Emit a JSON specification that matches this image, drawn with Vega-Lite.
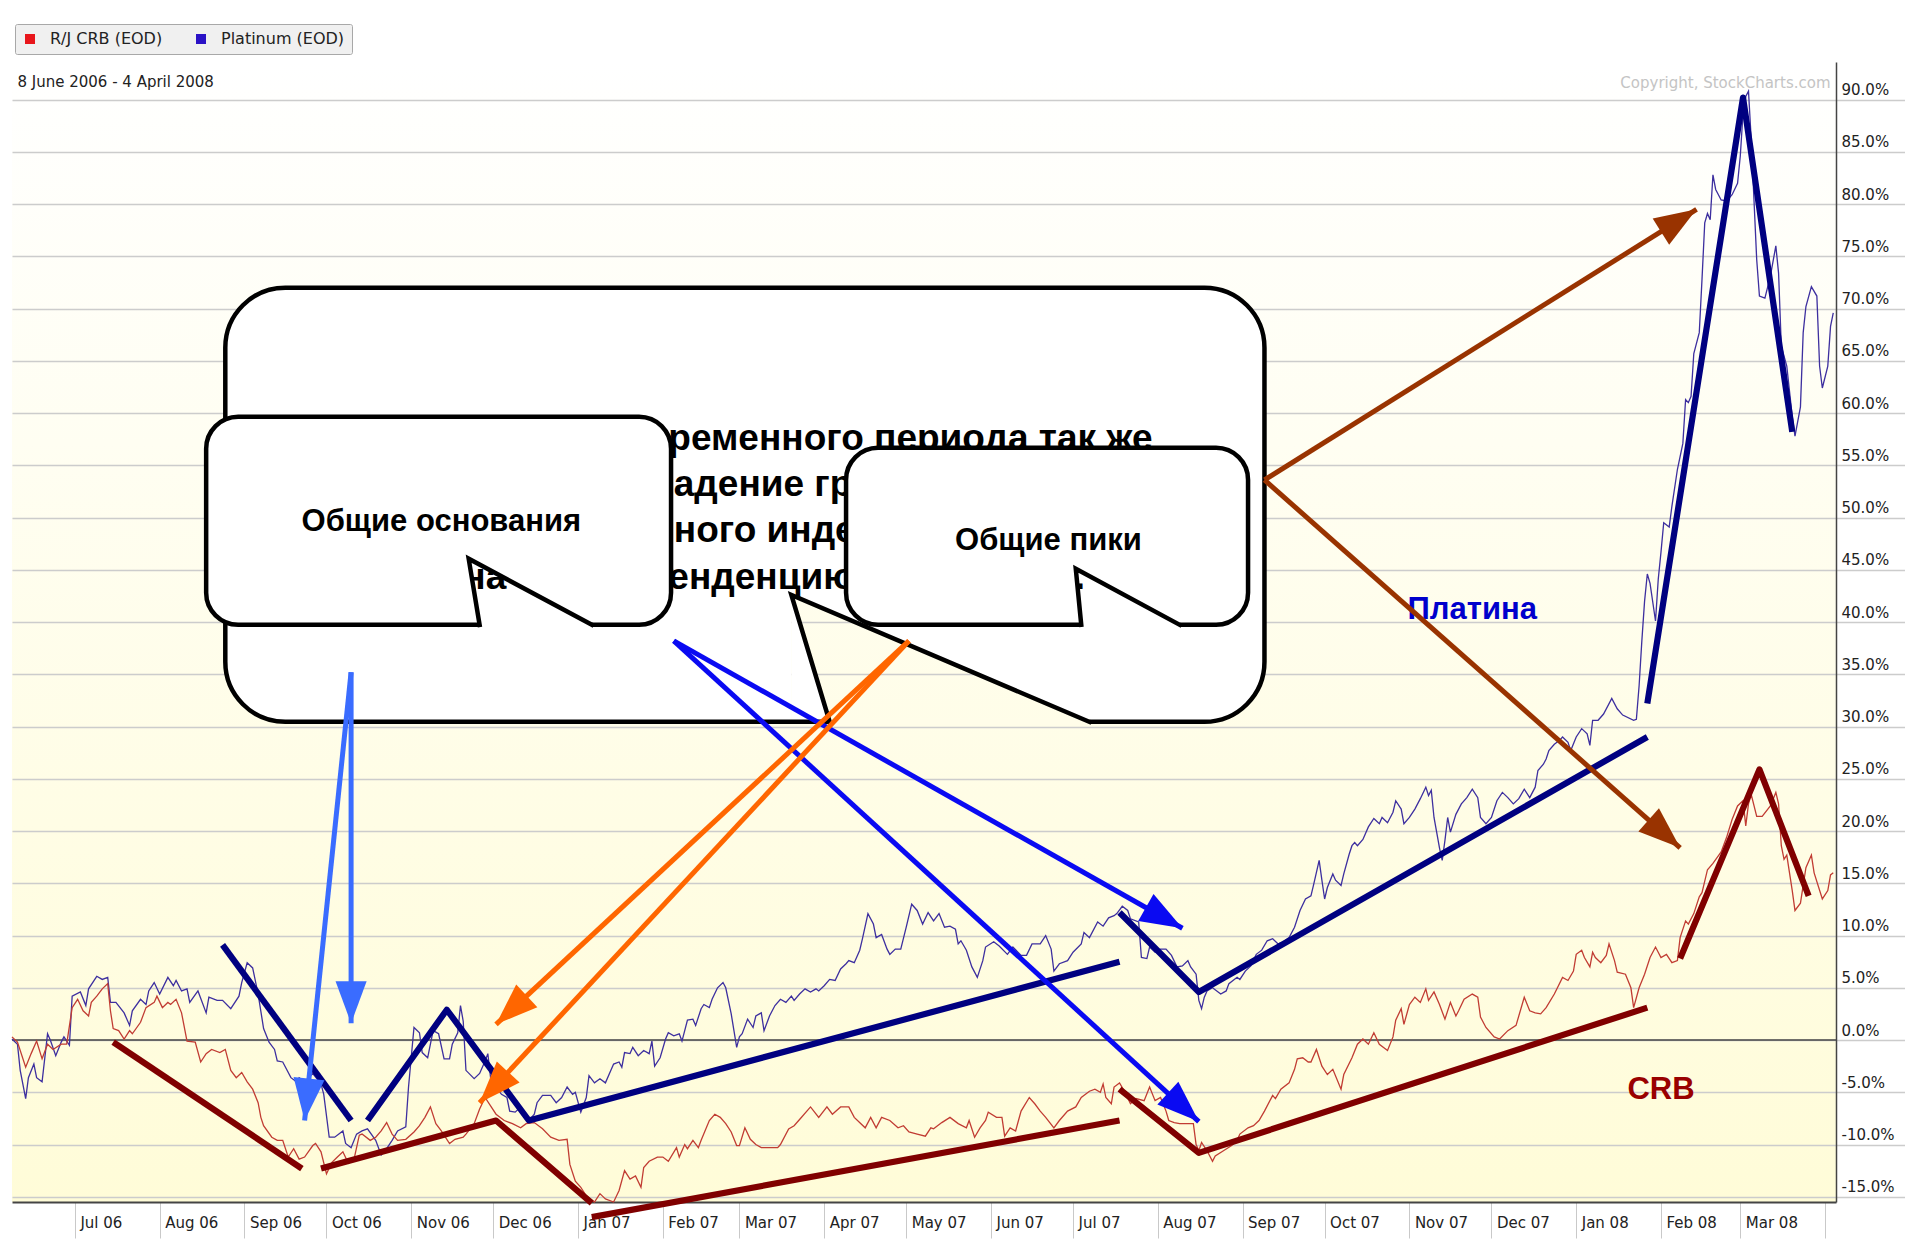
{
"$schema": "https://vega.github.io/schema/vega-lite/v6.json",
"width": 1824, "height": 1140,
"autosize": {"type": "none"},
"padding": {"left": 12, "top": 62, "right": 69, "bottom": 47},
"background": "#ffffff",
"config": {"view": {"stroke": null, "fill": {"gradient": "linear", "x1": 0, "y1": 0, "x2": 0, "y2": 1, "stops": [{"offset": 0, "color": "#ffffff"}, {"offset": 1, "color": "#fffcd8"}]}}, "font": "DejaVu Sans"},
"resolve": {"scale": {"color": "independent", "angle": "independent"}},
"datasets": {
"prices": [
{"date":"2006-06-08","series":"Platinum","pct":0.1},{"date":"2006-06-10","series":"Platinum","pct":-0.4},{"date":"2006-06-11","series":"Platinum","pct":-2.9},{"date":"2006-06-13","series":"Platinum","pct":-5.6},{"date":"2006-06-14","series":"Platinum","pct":-3.6},{"date":"2006-06-16","series":"Platinum","pct":-2.3},{"date":"2006-06-17","series":"Platinum","pct":-3.6},{"date":"2006-06-19","series":"Platinum","pct":-4.0},{"date":"2006-06-21","series":"Platinum","pct":0.6},{"date":"2006-06-22","series":"Platinum","pct":0.0},{"date":"2006-06-24","series":"Platinum","pct":-1.5},{"date":"2006-06-26","series":"Platinum","pct":-0.2},{"date":"2006-06-27","series":"Platinum","pct":0.3},{"date":"2006-06-29","series":"Platinum","pct":-0.5},{"date":"2006-06-30","series":"Platinum","pct":4.2},
{"date":"2006-07-03","series":"Platinum","pct":4.6},{"date":"2006-07-05","series":"Platinum","pct":3.3},{"date":"2006-07-06","series":"Platinum","pct":4.9},{"date":"2006-07-09","series":"Platinum","pct":6.1},{"date":"2006-07-11","series":"Platinum","pct":5.8},{"date":"2006-07-13","series":"Platinum","pct":6.0},{"date":"2006-07-14","series":"Platinum","pct":3.6},{"date":"2006-07-16","series":"Platinum","pct":3.6},{"date":"2006-07-19","series":"Platinum","pct":2.6},{"date":"2006-07-21","series":"Platinum","pct":1.4},{"date":"2006-07-22","series":"Platinum","pct":2.8},{"date":"2006-07-25","series":"Platinum","pct":3.9},{"date":"2006-07-27","series":"Platinum","pct":3.4},{"date":"2006-07-28","series":"Platinum","pct":4.7},{"date":"2006-07-30","series":"Platinum","pct":5.5},
{"date":"2006-08-01","series":"Platinum","pct":4.4},{"date":"2006-08-04","series":"Platinum","pct":6.0},{"date":"2006-08-06","series":"Platinum","pct":5.2},{"date":"2006-08-07","series":"Platinum","pct":5.7},{"date":"2006-08-09","series":"Platinum","pct":4.7},{"date":"2006-08-11","series":"Platinum","pct":4.9},{"date":"2006-08-12","series":"Platinum","pct":3.6},{"date":"2006-08-15","series":"Platinum","pct":4.7},{"date":"2006-08-18","series":"Platinum","pct":2.6},{"date":"2006-08-19","series":"Platinum","pct":4.1},{"date":"2006-08-22","series":"Platinum","pct":3.8},{"date":"2006-08-24","series":"Platinum","pct":3.8},{"date":"2006-08-27","series":"Platinum","pct":3.0},{"date":"2006-08-30","series":"Platinum","pct":4.2},{"date":"2006-08-31","series":"Platinum","pct":5.5},
{"date":"2006-09-02","series":"Platinum","pct":7.4},{"date":"2006-09-04","series":"Platinum","pct":6.9},{"date":"2006-09-06","series":"Platinum","pct":4.4},{"date":"2006-09-08","series":"Platinum","pct":1.1},{"date":"2006-09-10","series":"Platinum","pct":-0.2},{"date":"2006-09-12","series":"Platinum","pct":-0.9},{"date":"2006-09-13","series":"Platinum","pct":-2.0},{"date":"2006-09-15","series":"Platinum","pct":-2.1},{"date":"2006-09-18","series":"Platinum","pct":-3.6},{"date":"2006-09-20","series":"Platinum","pct":-4.0},{"date":"2006-09-21","series":"Platinum","pct":-3.6},{"date":"2006-09-23","series":"Platinum","pct":-4.0},{"date":"2006-09-26","series":"Platinum","pct":-3.2},{"date":"2006-09-29","series":"Platinum","pct":-4.2},{"date":"2006-09-30","series":"Platinum","pct":-5.2},
{"date":"2006-10-02","series":"Platinum","pct":-9.3},{"date":"2006-10-04","series":"Platinum","pct":-9.3},{"date":"2006-10-07","series":"Platinum","pct":-8.7},{"date":"2006-10-08","series":"Platinum","pct":-9.9},{"date":"2006-10-10","series":"Platinum","pct":-10.3},{"date":"2006-10-12","series":"Platinum","pct":-9.0},{"date":"2006-10-14","series":"Platinum","pct":-8.7},{"date":"2006-10-16","series":"Platinum","pct":-8.5},{"date":"2006-10-19","series":"Platinum","pct":-9.6},{"date":"2006-10-21","series":"Platinum","pct":-11.0},{"date":"2006-10-23","series":"Platinum","pct":-10.4},{"date":"2006-10-25","series":"Platinum","pct":-9.6},{"date":"2006-10-27","series":"Platinum","pct":-8.7},{"date":"2006-10-30","series":"Platinum","pct":-8.3},{"date":"2006-10-31","series":"Platinum","pct":-4.5},
{"date":"2006-11-02","series":"Platinum","pct":1.2},{"date":"2006-11-04","series":"Platinum","pct":0.7},{"date":"2006-11-05","series":"Platinum","pct":-1.2},{"date":"2006-11-07","series":"Platinum","pct":-1.7},{"date":"2006-11-09","series":"Platinum","pct":0.9},{"date":"2006-11-11","series":"Platinum","pct":0.6},{"date":"2006-11-13","series":"Platinum","pct":-1.8},{"date":"2006-11-15","series":"Platinum","pct":-1.8},{"date":"2006-11-16","series":"Platinum","pct":-0.4},{"date":"2006-11-18","series":"Platinum","pct":0.7},{"date":"2006-11-19","series":"Platinum","pct":3.3},{"date":"2006-11-20","series":"Platinum","pct":1.8},{"date":"2006-11-21","series":"Platinum","pct":-2.9},{"date":"2006-11-24","series":"Platinum","pct":-3.7},{"date":"2006-11-26","series":"Platinum","pct":-3.2},{"date":"2006-11-28","series":"Platinum","pct":-2.0},{"date":"2006-11-29","series":"Platinum","pct":-1.3},{"date":"2006-11-30","series":"Platinum","pct":-3.6},
{"date":"2006-12-02","series":"Platinum","pct":-4.5},{"date":"2006-12-04","series":"Platinum","pct":-5.2},{"date":"2006-12-06","series":"Platinum","pct":-5.5},{"date":"2006-12-07","series":"Platinum","pct":-6.8},{"date":"2006-12-09","series":"Platinum","pct":-6.9},{"date":"2006-12-11","series":"Platinum","pct":-6.4},{"date":"2006-12-13","series":"Platinum","pct":-7.1},{"date":"2006-12-14","series":"Platinum","pct":-7.7},{"date":"2006-12-16","series":"Platinum","pct":-7.1},{"date":"2006-12-17","series":"Platinum","pct":-6.0},{"date":"2006-12-19","series":"Platinum","pct":-5.3},{"date":"2006-12-22","series":"Platinum","pct":-5.3},{"date":"2006-12-24","series":"Platinum","pct":-6.0},{"date":"2006-12-26","series":"Platinum","pct":-5.5},{"date":"2006-12-28","series":"Platinum","pct":-4.5},{"date":"2006-12-30","series":"Platinum","pct":-5.2},{"date":"2006-12-31","series":"Platinum","pct":-5.0},
{"date":"2007-01-02","series":"Platinum","pct":-6.9},{"date":"2007-01-04","series":"Platinum","pct":-5.5},{"date":"2007-01-05","series":"Platinum","pct":-3.4},{"date":"2007-01-07","series":"Platinum","pct":-4.1},{"date":"2007-01-09","series":"Platinum","pct":-3.7},{"date":"2007-01-11","series":"Platinum","pct":-4.1},{"date":"2007-01-13","series":"Platinum","pct":-2.9},{"date":"2007-01-14","series":"Platinum","pct":-2.3},{"date":"2007-01-16","series":"Platinum","pct":-2.1},{"date":"2007-01-17","series":"Platinum","pct":-2.6},{"date":"2007-01-18","series":"Platinum","pct":-1.2},{"date":"2007-01-20","series":"Platinum","pct":-1.3},{"date":"2007-01-21","series":"Platinum","pct":-0.7},{"date":"2007-01-23","series":"Platinum","pct":-1.5},{"date":"2007-01-25","series":"Platinum","pct":-1.0},{"date":"2007-01-27","series":"Platinum","pct":-1.3},{"date":"2007-01-28","series":"Platinum","pct":-0.1},{"date":"2007-01-29","series":"Platinum","pct":-2.5},{"date":"2007-01-31","series":"Platinum","pct":-1.7},
{"date":"2007-02-02","series":"Platinum","pct":0.1},{"date":"2007-02-03","series":"Platinum","pct":0.7},{"date":"2007-02-05","series":"Platinum","pct":0.4},{"date":"2007-02-07","series":"Platinum","pct":0.6},{"date":"2007-02-08","series":"Platinum","pct":-0.1},{"date":"2007-02-10","series":"Platinum","pct":1.9},{"date":"2007-02-12","series":"Platinum","pct":2.0},{"date":"2007-02-13","series":"Platinum","pct":1.4},{"date":"2007-02-15","series":"Platinum","pct":3.0},{"date":"2007-02-16","series":"Platinum","pct":3.4},{"date":"2007-02-18","series":"Platinum","pct":3.1},{"date":"2007-02-19","series":"Platinum","pct":3.9},{"date":"2007-02-21","series":"Platinum","pct":5.0},{"date":"2007-02-23","series":"Platinum","pct":5.5},{"date":"2007-02-24","series":"Platinum","pct":5.0},{"date":"2007-02-26","series":"Platinum","pct":2.5},{"date":"2007-02-27","series":"Platinum","pct":0.9},{"date":"2007-02-28","series":"Platinum","pct":-0.7},
{"date":"2007-03-01","series":"Platinum","pct":0.3},{"date":"2007-03-02","series":"Platinum","pct":0.6},{"date":"2007-03-04","series":"Platinum","pct":2.0},{"date":"2007-03-06","series":"Platinum","pct":1.2},{"date":"2007-03-07","series":"Platinum","pct":2.3},{"date":"2007-03-09","series":"Platinum","pct":2.6},{"date":"2007-03-10","series":"Platinum","pct":0.9},{"date":"2007-03-12","series":"Platinum","pct":2.3},{"date":"2007-03-14","series":"Platinum","pct":3.3},{"date":"2007-03-16","series":"Platinum","pct":3.9},{"date":"2007-03-18","series":"Platinum","pct":3.6},{"date":"2007-03-20","series":"Platinum","pct":4.2},{"date":"2007-03-21","series":"Platinum","pct":3.8},{"date":"2007-03-23","series":"Platinum","pct":4.4},{"date":"2007-03-25","series":"Platinum","pct":4.9},{"date":"2007-03-27","series":"Platinum","pct":4.6},{"date":"2007-03-29","series":"Platinum","pct":4.9},{"date":"2007-03-30","series":"Platinum","pct":4.7},
{"date":"2007-04-01","series":"Platinum","pct":5.2},{"date":"2007-04-03","series":"Platinum","pct":5.8},{"date":"2007-04-05","series":"Platinum","pct":5.7},{"date":"2007-04-07","series":"Platinum","pct":6.8},{"date":"2007-04-09","series":"Platinum","pct":7.3},{"date":"2007-04-10","series":"Platinum","pct":7.6},{"date":"2007-04-12","series":"Platinum","pct":7.4},{"date":"2007-04-14","series":"Platinum","pct":8.6},{"date":"2007-04-15","series":"Platinum","pct":9.7},{"date":"2007-04-17","series":"Platinum","pct":12.1},{"date":"2007-04-19","series":"Platinum","pct":11.1},{"date":"2007-04-20","series":"Platinum","pct":9.8},{"date":"2007-04-22","series":"Platinum","pct":10.1},{"date":"2007-04-24","series":"Platinum","pct":8.7},{"date":"2007-04-25","series":"Platinum","pct":8.2},{"date":"2007-04-27","series":"Platinum","pct":8.7},{"date":"2007-04-29","series":"Platinum","pct":8.7},
{"date":"2007-05-01","series":"Platinum","pct":10.8},{"date":"2007-05-03","series":"Platinum","pct":13.0},{"date":"2007-05-05","series":"Platinum","pct":12.4},{"date":"2007-05-07","series":"Platinum","pct":11.1},{"date":"2007-05-09","series":"Platinum","pct":12.2},{"date":"2007-05-11","series":"Platinum","pct":11.4},{"date":"2007-05-13","series":"Platinum","pct":12.1},{"date":"2007-05-15","series":"Platinum","pct":10.8},{"date":"2007-05-17","series":"Platinum","pct":10.9},{"date":"2007-05-19","series":"Platinum","pct":10.6},{"date":"2007-05-20","series":"Platinum","pct":9.2},{"date":"2007-05-21","series":"Platinum","pct":9.5},{"date":"2007-05-23","series":"Platinum","pct":8.6},{"date":"2007-05-25","series":"Platinum","pct":7.0},{"date":"2007-05-27","series":"Platinum","pct":6.0},{"date":"2007-05-29","series":"Platinum","pct":7.6},{"date":"2007-05-30","series":"Platinum","pct":8.9},
{"date":"2007-06-02","series":"Platinum","pct":9.4},{"date":"2007-06-04","series":"Platinum","pct":9.0},{"date":"2007-06-07","series":"Platinum","pct":8.2},{"date":"2007-06-09","series":"Platinum","pct":8.9},{"date":"2007-06-12","series":"Platinum","pct":8.1},{"date":"2007-06-14","series":"Platinum","pct":8.1},{"date":"2007-06-16","series":"Platinum","pct":9.2},{"date":"2007-06-19","series":"Platinum","pct":9.2},{"date":"2007-06-21","series":"Platinum","pct":10.0},{"date":"2007-06-23","series":"Platinum","pct":8.7},{"date":"2007-06-24","series":"Platinum","pct":6.6},{"date":"2007-06-26","series":"Platinum","pct":7.3},{"date":"2007-06-29","series":"Platinum","pct":7.6},
{"date":"2007-07-01","series":"Platinum","pct":8.4},{"date":"2007-07-04","series":"Platinum","pct":9.2},{"date":"2007-07-05","series":"Platinum","pct":10.3},{"date":"2007-07-07","series":"Platinum","pct":9.8},{"date":"2007-07-10","series":"Platinum","pct":11.3},{"date":"2007-07-12","series":"Platinum","pct":10.9},{"date":"2007-07-14","series":"Platinum","pct":11.7},{"date":"2007-07-16","series":"Platinum","pct":11.9},{"date":"2007-07-17","series":"Platinum","pct":12.1},{"date":"2007-07-19","series":"Platinum","pct":12.8},{"date":"2007-07-21","series":"Platinum","pct":12.4},{"date":"2007-07-22","series":"Platinum","pct":11.6},{"date":"2007-07-25","series":"Platinum","pct":11.3},{"date":"2007-07-26","series":"Platinum","pct":7.9},{"date":"2007-07-28","series":"Platinum","pct":7.8},{"date":"2007-07-29","series":"Platinum","pct":8.9},{"date":"2007-07-31","series":"Platinum","pct":8.4},
{"date":"2007-08-02","series":"Platinum","pct":8.7},{"date":"2007-08-04","series":"Platinum","pct":8.7},{"date":"2007-08-06","series":"Platinum","pct":8.1},{"date":"2007-08-08","series":"Platinum","pct":7.0},{"date":"2007-08-10","series":"Platinum","pct":7.1},{"date":"2007-08-12","series":"Platinum","pct":7.6},{"date":"2007-08-13","series":"Platinum","pct":7.0},{"date":"2007-08-15","series":"Platinum","pct":6.3},{"date":"2007-08-16","series":"Platinum","pct":3.8},{"date":"2007-08-17","series":"Platinum","pct":3.0},{"date":"2007-08-18","series":"Platinum","pct":4.1},{"date":"2007-08-19","series":"Platinum","pct":4.7},{"date":"2007-08-21","series":"Platinum","pct":5.0},{"date":"2007-08-24","series":"Platinum","pct":4.4},{"date":"2007-08-26","series":"Platinum","pct":4.7},{"date":"2007-08-27","series":"Platinum","pct":5.4},{"date":"2007-08-30","series":"Platinum","pct":6.0},{"date":"2007-08-31","series":"Platinum","pct":5.8},
{"date":"2007-09-02","series":"Platinum","pct":6.6},{"date":"2007-09-04","series":"Platinum","pct":7.1},{"date":"2007-09-06","series":"Platinum","pct":8.2},{"date":"2007-09-08","series":"Platinum","pct":8.6},{"date":"2007-09-10","series":"Platinum","pct":9.5},{"date":"2007-09-12","series":"Platinum","pct":9.7},{"date":"2007-09-14","series":"Platinum","pct":9.2},{"date":"2007-09-16","series":"Platinum","pct":9.4},{"date":"2007-09-18","series":"Platinum","pct":9.8},{"date":"2007-09-20","series":"Platinum","pct":10.8},{"date":"2007-09-22","series":"Platinum","pct":12.4},{"date":"2007-09-24","series":"Platinum","pct":13.5},{"date":"2007-09-26","series":"Platinum","pct":13.8},{"date":"2007-09-27","series":"Platinum","pct":14.9},{"date":"2007-09-29","series":"Platinum","pct":17.2},{"date":"2007-09-30","series":"Platinum","pct":15.3},
{"date":"2007-10-01","series":"Platinum","pct":13.5},{"date":"2007-10-02","series":"Platinum","pct":14.6},{"date":"2007-10-04","series":"Platinum","pct":15.9},{"date":"2007-10-05","series":"Platinum","pct":15.3},{"date":"2007-10-07","series":"Platinum","pct":14.8},{"date":"2007-10-08","series":"Platinum","pct":15.9},{"date":"2007-10-10","series":"Platinum","pct":17.8},{"date":"2007-10-11","series":"Platinum","pct":18.6},{"date":"2007-10-12","series":"Platinum","pct":18.9},{"date":"2007-10-13","series":"Platinum","pct":18.6},{"date":"2007-10-15","series":"Platinum","pct":19.2},{"date":"2007-10-17","series":"Platinum","pct":20.4},{"date":"2007-10-19","series":"Platinum","pct":21.2},{"date":"2007-10-21","series":"Platinum","pct":20.7},{"date":"2007-10-22","series":"Platinum","pct":21.3},{"date":"2007-10-24","series":"Platinum","pct":20.8},{"date":"2007-10-26","series":"Platinum","pct":21.8},{"date":"2007-10-27","series":"Platinum","pct":22.9},{"date":"2007-10-29","series":"Platinum","pct":22.1},{"date":"2007-10-30","series":"Platinum","pct":20.7},
{"date":"2007-11-01","series":"Platinum","pct":21.3},{"date":"2007-11-03","series":"Platinum","pct":22.1},{"date":"2007-11-05","series":"Platinum","pct":23.1},{"date":"2007-11-07","series":"Platinum","pct":24.2},{"date":"2007-11-08","series":"Platinum","pct":23.4},{"date":"2007-11-09","series":"Platinum","pct":23.9},{"date":"2007-11-10","series":"Platinum","pct":21.3},{"date":"2007-11-12","series":"Platinum","pct":18.4},{"date":"2007-11-13","series":"Platinum","pct":17.2},{"date":"2007-11-14","series":"Platinum","pct":19.1},{"date":"2007-11-15","series":"Platinum","pct":21.3},{"date":"2007-11-16","series":"Platinum","pct":19.9},{"date":"2007-11-18","series":"Platinum","pct":21.6},{"date":"2007-11-20","series":"Platinum","pct":22.6},{"date":"2007-11-22","series":"Platinum","pct":23.2},{"date":"2007-11-24","series":"Platinum","pct":24.0},{"date":"2007-11-26","series":"Platinum","pct":23.2},{"date":"2007-11-27","series":"Platinum","pct":21.3},{"date":"2007-11-29","series":"Platinum","pct":20.7},
{"date":"2007-12-01","series":"Platinum","pct":21.3},{"date":"2007-12-03","series":"Platinum","pct":22.9},{"date":"2007-12-05","series":"Platinum","pct":23.7},{"date":"2007-12-07","series":"Platinum","pct":23.2},{"date":"2007-12-09","series":"Platinum","pct":22.6},{"date":"2007-12-11","series":"Platinum","pct":23.1},{"date":"2007-12-13","series":"Platinum","pct":24.0},{"date":"2007-12-15","series":"Platinum","pct":23.2},{"date":"2007-12-17","series":"Platinum","pct":24.2},{"date":"2007-12-18","series":"Platinum","pct":25.8},{"date":"2007-12-20","series":"Platinum","pct":26.4},{"date":"2007-12-21","series":"Platinum","pct":26.9},{"date":"2007-12-22","series":"Platinum","pct":27.7},{"date":"2007-12-24","series":"Platinum","pct":28.3},{"date":"2007-12-26","series":"Platinum","pct":28.7},{"date":"2007-12-27","series":"Platinum","pct":29.0},{"date":"2007-12-29","series":"Platinum","pct":28.5},{"date":"2007-12-30","series":"Platinum","pct":27.7},
{"date":"2008-01-01","series":"Platinum","pct":29.0},{"date":"2008-01-03","series":"Platinum","pct":29.8},{"date":"2008-01-05","series":"Platinum","pct":29.3},{"date":"2008-01-06","series":"Platinum","pct":28.2},{"date":"2008-01-07","series":"Platinum","pct":30.6},{"date":"2008-01-09","series":"Platinum","pct":30.6},{"date":"2008-01-11","series":"Platinum","pct":31.2},{"date":"2008-01-14","series":"Platinum","pct":32.7},{"date":"2008-01-16","series":"Platinum","pct":31.7},{"date":"2008-01-18","series":"Platinum","pct":31.1},{"date":"2008-01-22","series":"Platinum","pct":30.6},{"date":"2008-01-23","series":"Platinum","pct":30.7},{"date":"2008-01-24","series":"Platinum","pct":33.9},{"date":"2008-01-25","series":"Platinum","pct":38.2},{"date":"2008-01-26","series":"Platinum","pct":42.0},{"date":"2008-01-27","series":"Platinum","pct":44.6},{"date":"2008-01-28","series":"Platinum","pct":43.7},{"date":"2008-01-30","series":"Platinum","pct":40.1},{"date":"2008-01-31","series":"Platinum","pct":44.1},
{"date":"2008-02-01","series":"Platinum","pct":46.7},{"date":"2008-02-02","series":"Platinum","pct":49.5},{"date":"2008-02-04","series":"Platinum","pct":49.1},{"date":"2008-02-05","series":"Platinum","pct":51.1},{"date":"2008-02-07","series":"Platinum","pct":54.6},{"date":"2008-02-09","series":"Platinum","pct":57.1},{"date":"2008-02-10","series":"Platinum","pct":61.3},{"date":"2008-02-11","series":"Platinum","pct":61.0},{"date":"2008-02-12","series":"Platinum","pct":61.6},{"date":"2008-02-13","series":"Platinum","pct":65.7},{"date":"2008-02-15","series":"Platinum","pct":67.7},{"date":"2008-02-16","series":"Platinum","pct":72.8},{"date":"2008-02-17","series":"Platinum","pct":78.2},{"date":"2008-02-18","series":"Platinum","pct":79.1},{"date":"2008-02-19","series":"Platinum","pct":78.5},{"date":"2008-02-20","series":"Platinum","pct":82.8},{"date":"2008-02-21","series":"Platinum","pct":81.4},{"date":"2008-02-23","series":"Platinum","pct":80.4},{"date":"2008-02-25","series":"Platinum","pct":80.3},{"date":"2008-02-27","series":"Platinum","pct":80.9},{"date":"2008-02-29","series":"Platinum","pct":82.0},
{"date":"2008-03-01","series":"Platinum","pct":84.6},{"date":"2008-03-02","series":"Platinum","pct":88.7},{"date":"2008-03-03","series":"Platinum","pct":90.3},{"date":"2008-03-04","series":"Platinum","pct":90.8},{"date":"2008-03-05","series":"Platinum","pct":86.2},{"date":"2008-03-07","series":"Platinum","pct":74.7},{"date":"2008-03-08","series":"Platinum","pct":71.2},{"date":"2008-03-10","series":"Platinum","pct":71.0},{"date":"2008-03-12","series":"Platinum","pct":73.1},{"date":"2008-03-14","series":"Platinum","pct":76.0},{"date":"2008-03-15","series":"Platinum","pct":73.4},{"date":"2008-03-16","series":"Platinum","pct":66.4},{"date":"2008-03-18","series":"Platinum","pct":64.5},{"date":"2008-03-20","series":"Platinum","pct":59.7},{"date":"2008-03-21","series":"Platinum","pct":57.8},{"date":"2008-03-23","series":"Platinum","pct":60.6},{"date":"2008-03-24","series":"Platinum","pct":67.7},{"date":"2008-03-25","series":"Platinum","pct":70.2},{"date":"2008-03-27","series":"Platinum","pct":72.1},{"date":"2008-03-29","series":"Platinum","pct":71.2},{"date":"2008-03-30","series":"Platinum","pct":64.5},{"date":"2008-03-31","series":"Platinum","pct":62.4},{"date":"2008-04-02","series":"Platinum","pct":64.5},{"date":"2008-04-03","series":"Platinum","pct":68.3},{"date":"2008-04-04","series":"Platinum","pct":69.6},
{"date":"2006-06-08","series":"CRB","pct":0.3},{"date":"2006-06-10","series":"CRB","pct":-0.2},{"date":"2006-06-13","series":"CRB","pct":-2.6},{"date":"2006-06-15","series":"CRB","pct":-1.3},{"date":"2006-06-17","series":"CRB","pct":-0.1},{"date":"2006-06-19","series":"CRB","pct":-1.8},{"date":"2006-06-21","series":"CRB","pct":-0.4},{"date":"2006-06-23","series":"CRB","pct":-0.9},{"date":"2006-06-26","series":"CRB","pct":-0.4},{"date":"2006-06-28","series":"CRB","pct":-0.4},{"date":"2006-06-30","series":"CRB","pct":3.1},
{"date":"2006-07-02","series":"CRB","pct":3.9},{"date":"2006-07-04","series":"CRB","pct":2.8},{"date":"2006-07-06","series":"CRB","pct":2.3},{"date":"2006-07-07","series":"CRB","pct":3.6},{"date":"2006-07-09","series":"CRB","pct":4.2},{"date":"2006-07-11","series":"CRB","pct":4.9},{"date":"2006-07-13","series":"CRB","pct":5.4},{"date":"2006-07-14","series":"CRB","pct":2.8},{"date":"2006-07-15","series":"CRB","pct":1.1},{"date":"2006-07-17","series":"CRB","pct":0.9},{"date":"2006-07-19","series":"CRB","pct":0.1},{"date":"2006-07-21","series":"CRB","pct":0.9},{"date":"2006-07-22","series":"CRB","pct":0.6},{"date":"2006-07-25","series":"CRB","pct":1.7},{"date":"2006-07-27","series":"CRB","pct":3.1},{"date":"2006-07-30","series":"CRB","pct":3.6},{"date":"2006-07-31","series":"CRB","pct":4.2},
{"date":"2006-08-02","series":"CRB","pct":3.1},{"date":"2006-08-04","series":"CRB","pct":3.6},{"date":"2006-08-05","series":"CRB","pct":3.4},{"date":"2006-08-07","series":"CRB","pct":3.9},{"date":"2006-08-09","series":"CRB","pct":2.6},{"date":"2006-08-11","series":"CRB","pct":-0.1},{"date":"2006-08-14","series":"CRB","pct":-0.2},{"date":"2006-08-16","series":"CRB","pct":-2.1},{"date":"2006-08-18","series":"CRB","pct":-1.3},{"date":"2006-08-20","series":"CRB","pct":-0.9},{"date":"2006-08-23","series":"CRB","pct":-1.2},{"date":"2006-08-25","series":"CRB","pct":-0.9},{"date":"2006-08-27","series":"CRB","pct":-2.9},{"date":"2006-08-29","series":"CRB","pct":-3.6},{"date":"2006-08-31","series":"CRB","pct":-3.1},
{"date":"2006-09-02","series":"CRB","pct":-4.0},{"date":"2006-09-04","series":"CRB","pct":-4.7},{"date":"2006-09-06","series":"CRB","pct":-6.0},{"date":"2006-09-07","series":"CRB","pct":-7.4},{"date":"2006-09-08","series":"CRB","pct":-8.2},{"date":"2006-09-11","series":"CRB","pct":-9.3},{"date":"2006-09-13","series":"CRB","pct":-9.6},{"date":"2006-09-15","series":"CRB","pct":-9.6},{"date":"2006-09-17","series":"CRB","pct":-11.2},{"date":"2006-09-19","series":"CRB","pct":-10.4},{"date":"2006-09-21","series":"CRB","pct":-11.4},{"date":"2006-09-23","series":"CRB","pct":-11.2},{"date":"2006-09-26","series":"CRB","pct":-10.1},{"date":"2006-09-27","series":"CRB","pct":-9.9},{"date":"2006-09-29","series":"CRB","pct":-10.7},
{"date":"2006-10-01","series":"CRB","pct":-12.8},{"date":"2006-10-03","series":"CRB","pct":-11.7},{"date":"2006-10-05","series":"CRB","pct":-11.2},{"date":"2006-10-07","series":"CRB","pct":-10.7},{"date":"2006-10-09","series":"CRB","pct":-11.8},{"date":"2006-10-11","series":"CRB","pct":-11.5},{"date":"2006-10-13","series":"CRB","pct":-9.1},{"date":"2006-10-14","series":"CRB","pct":-9.0},{"date":"2006-10-17","series":"CRB","pct":-9.6},{"date":"2006-10-19","series":"CRB","pct":-9.3},{"date":"2006-10-21","series":"CRB","pct":-8.7},{"date":"2006-10-23","series":"CRB","pct":-7.9},{"date":"2006-10-25","series":"CRB","pct":-9.0},{"date":"2006-10-27","series":"CRB","pct":-9.6},{"date":"2006-10-30","series":"CRB","pct":-9.5},
{"date":"2006-11-02","series":"CRB","pct":-8.8},{"date":"2006-11-04","series":"CRB","pct":-8.2},{"date":"2006-11-06","series":"CRB","pct":-7.4},{"date":"2006-11-08","series":"CRB","pct":-6.4},{"date":"2006-11-10","series":"CRB","pct":-8.0},{"date":"2006-11-12","series":"CRB","pct":-8.7},{"date":"2006-11-15","series":"CRB","pct":-9.9},{"date":"2006-11-17","series":"CRB","pct":-9.5},{"date":"2006-11-20","series":"CRB","pct":-9.3},{"date":"2006-11-21","series":"CRB","pct":-9.0},{"date":"2006-11-24","series":"CRB","pct":-8.0},{"date":"2006-11-26","series":"CRB","pct":-6.6},{"date":"2006-11-28","series":"CRB","pct":-5.5},
{"date":"2006-12-02","series":"CRB","pct":-7.1},{"date":"2006-12-05","series":"CRB","pct":-7.7},{"date":"2006-12-08","series":"CRB","pct":-8.0},{"date":"2006-12-11","series":"CRB","pct":-8.4},{"date":"2006-12-13","series":"CRB","pct":-8.0},{"date":"2006-12-16","series":"CRB","pct":-7.9},{"date":"2006-12-19","series":"CRB","pct":-8.5},{"date":"2006-12-22","series":"CRB","pct":-9.3},{"date":"2006-12-25","series":"CRB","pct":-9.6},{"date":"2006-12-28","series":"CRB","pct":-9.5},{"date":"2006-12-29","series":"CRB","pct":-11.9},{"date":"2006-12-31","series":"CRB","pct":-13.5},
{"date":"2007-01-02","series":"CRB","pct":-14.1},{"date":"2007-01-04","series":"CRB","pct":-14.9},{"date":"2007-01-05","series":"CRB","pct":-15.1},{"date":"2007-01-07","series":"CRB","pct":-15.5},{"date":"2007-01-09","series":"CRB","pct":-14.7},{"date":"2007-01-11","series":"CRB","pct":-15.2},{"date":"2007-01-14","series":"CRB","pct":-15.5},{"date":"2007-01-16","series":"CRB","pct":-14.4},{"date":"2007-01-18","series":"CRB","pct":-12.5},{"date":"2007-01-20","series":"CRB","pct":-13.3},{"date":"2007-01-22","series":"CRB","pct":-13.0},{"date":"2007-01-24","series":"CRB","pct":-14.1},{"date":"2007-01-25","series":"CRB","pct":-12.2},{"date":"2007-01-27","series":"CRB","pct":-11.6},{"date":"2007-01-30","series":"CRB","pct":-11.2},
{"date":"2007-02-01","series":"CRB","pct":-11.2},{"date":"2007-02-03","series":"CRB","pct":-11.6},{"date":"2007-02-06","series":"CRB","pct":-10.3},{"date":"2007-02-07","series":"CRB","pct":-11.2},{"date":"2007-02-09","series":"CRB","pct":-10.0},{"date":"2007-02-10","series":"CRB","pct":-10.4},{"date":"2007-02-12","series":"CRB","pct":-9.6},{"date":"2007-02-14","series":"CRB","pct":-10.3},{"date":"2007-02-15","series":"CRB","pct":-9.6},{"date":"2007-02-18","series":"CRB","pct":-7.7},{"date":"2007-02-20","series":"CRB","pct":-7.1},{"date":"2007-02-22","series":"CRB","pct":-7.4},{"date":"2007-02-24","series":"CRB","pct":-8.0},{"date":"2007-02-26","series":"CRB","pct":-8.8},{"date":"2007-02-28","series":"CRB","pct":-10.1},
{"date":"2007-03-01","series":"CRB","pct":-10.1},{"date":"2007-03-03","series":"CRB","pct":-8.4},{"date":"2007-03-05","series":"CRB","pct":-9.5},{"date":"2007-03-07","series":"CRB","pct":-10.0},{"date":"2007-03-09","series":"CRB","pct":-10.3},{"date":"2007-03-12","series":"CRB","pct":-10.3},{"date":"2007-03-15","series":"CRB","pct":-10.3},{"date":"2007-03-16","series":"CRB","pct":-10.0},{"date":"2007-03-19","series":"CRB","pct":-8.5},{"date":"2007-03-21","series":"CRB","pct":-8.2},{"date":"2007-03-23","series":"CRB","pct":-7.6},{"date":"2007-03-27","series":"CRB","pct":-6.4},{"date":"2007-03-30","series":"CRB","pct":-7.4},
{"date":"2007-04-02","series":"CRB","pct":-6.4},{"date":"2007-04-04","series":"CRB","pct":-7.1},{"date":"2007-04-07","series":"CRB","pct":-6.4},{"date":"2007-04-10","series":"CRB","pct":-6.4},{"date":"2007-04-12","series":"CRB","pct":-7.4},{"date":"2007-04-16","series":"CRB","pct":-8.4},{"date":"2007-04-18","series":"CRB","pct":-7.4},{"date":"2007-04-20","series":"CRB","pct":-8.4},{"date":"2007-04-22","series":"CRB","pct":-7.4},{"date":"2007-04-25","series":"CRB","pct":-7.7},{"date":"2007-04-28","series":"CRB","pct":-8.4},{"date":"2007-04-30","series":"CRB","pct":-8.2},
{"date":"2007-05-02","series":"CRB","pct":-8.8},{"date":"2007-05-05","series":"CRB","pct":-9.0},{"date":"2007-05-08","series":"CRB","pct":-9.2},{"date":"2007-05-10","series":"CRB","pct":-8.4},{"date":"2007-05-11","series":"CRB","pct":-8.5},{"date":"2007-05-14","series":"CRB","pct":-7.9},{"date":"2007-05-17","series":"CRB","pct":-7.4},{"date":"2007-05-20","series":"CRB","pct":-8.0},{"date":"2007-05-23","series":"CRB","pct":-8.4},{"date":"2007-05-24","series":"CRB","pct":-7.7},{"date":"2007-05-26","series":"CRB","pct":-9.3},{"date":"2007-05-28","series":"CRB","pct":-8.4},{"date":"2007-05-30","series":"CRB","pct":-7.7},{"date":"2007-05-31","series":"CRB","pct":-6.9},
{"date":"2007-06-03","series":"CRB","pct":-7.4},{"date":"2007-06-05","series":"CRB","pct":-7.4},{"date":"2007-06-06","series":"CRB","pct":-9.2},{"date":"2007-06-08","series":"CRB","pct":-8.4},{"date":"2007-06-10","series":"CRB","pct":-8.7},{"date":"2007-06-12","series":"CRB","pct":-6.8},{"date":"2007-06-15","series":"CRB","pct":-5.5},{"date":"2007-06-17","series":"CRB","pct":-6.1},{"date":"2007-06-19","series":"CRB","pct":-6.8},{"date":"2007-06-21","series":"CRB","pct":-7.4},{"date":"2007-06-24","series":"CRB","pct":-8.4},{"date":"2007-06-26","series":"CRB","pct":-7.7},{"date":"2007-06-29","series":"CRB","pct":-6.8},
{"date":"2007-07-02","series":"CRB","pct":-6.4},{"date":"2007-07-04","series":"CRB","pct":-5.5},{"date":"2007-07-07","series":"CRB","pct":-4.9},{"date":"2007-07-09","series":"CRB","pct":-4.7},{"date":"2007-07-11","series":"CRB","pct":-5.0},{"date":"2007-07-12","series":"CRB","pct":-4.2},{"date":"2007-07-13","series":"CRB","pct":-5.5},{"date":"2007-07-15","series":"CRB","pct":-6.1},{"date":"2007-07-16","series":"CRB","pct":-4.5},{"date":"2007-07-18","series":"CRB","pct":-4.1},{"date":"2007-07-20","series":"CRB","pct":-5.0},{"date":"2007-07-22","series":"CRB","pct":-6.1},{"date":"2007-07-24","series":"CRB","pct":-5.6},{"date":"2007-07-27","series":"CRB","pct":-5.8},{"date":"2007-07-29","series":"CRB","pct":-4.5},{"date":"2007-07-31","series":"CRB","pct":-5.8},
{"date":"2007-08-02","series":"CRB","pct":-5.5},{"date":"2007-08-04","series":"CRB","pct":-6.8},{"date":"2007-08-05","series":"CRB","pct":-7.7},{"date":"2007-08-07","series":"CRB","pct":-7.9},{"date":"2007-08-09","series":"CRB","pct":-8.0},{"date":"2007-08-12","series":"CRB","pct":-8.0},{"date":"2007-08-14","series":"CRB","pct":-8.0},{"date":"2007-08-15","series":"CRB","pct":-10.0},{"date":"2007-08-16","series":"CRB","pct":-10.6},{"date":"2007-08-17","series":"CRB","pct":-9.8},{"date":"2007-08-19","series":"CRB","pct":-10.6},{"date":"2007-08-21","series":"CRB","pct":-11.6},{"date":"2007-08-22","series":"CRB","pct":-11.1},{"date":"2007-08-25","series":"CRB","pct":-10.6},{"date":"2007-08-28","series":"CRB","pct":-10.1},{"date":"2007-08-30","series":"CRB","pct":-9.6},{"date":"2007-08-31","series":"CRB","pct":-9.0},
{"date":"2007-09-03","series":"CRB","pct":-8.4},{"date":"2007-09-05","series":"CRB","pct":-8.2},{"date":"2007-09-07","series":"CRB","pct":-7.7},{"date":"2007-09-09","series":"CRB","pct":-6.8},{"date":"2007-09-12","series":"CRB","pct":-5.3},{"date":"2007-09-13","series":"CRB","pct":-5.6},{"date":"2007-09-15","series":"CRB","pct":-4.7},{"date":"2007-09-18","series":"CRB","pct":-4.1},{"date":"2007-09-20","series":"CRB","pct":-2.8},{"date":"2007-09-21","series":"CRB","pct":-1.8},{"date":"2007-09-23","series":"CRB","pct":-1.7},{"date":"2007-09-25","series":"CRB","pct":-2.1},{"date":"2007-09-26","series":"CRB","pct":-2.1},{"date":"2007-09-28","series":"CRB","pct":-0.9},{"date":"2007-09-30","series":"CRB","pct":-2.5},
{"date":"2007-10-02","series":"CRB","pct":-3.3},{"date":"2007-10-04","series":"CRB","pct":-2.8},{"date":"2007-10-07","series":"CRB","pct":-4.7},{"date":"2007-10-08","series":"CRB","pct":-3.3},{"date":"2007-10-11","series":"CRB","pct":-1.7},{"date":"2007-10-13","series":"CRB","pct":-0.4},{"date":"2007-10-15","series":"CRB","pct":0.1},{"date":"2007-10-17","series":"CRB","pct":-0.4},{"date":"2007-10-19","series":"CRB","pct":0.7},{"date":"2007-10-21","series":"CRB","pct":-0.4},{"date":"2007-10-24","series":"CRB","pct":-1.0},{"date":"2007-10-26","series":"CRB","pct":0.3},{"date":"2007-10-27","series":"CRB","pct":1.9},{"date":"2007-10-29","series":"CRB","pct":3.0},{"date":"2007-10-30","series":"CRB","pct":1.5},
{"date":"2007-11-01","series":"CRB","pct":3.4},{"date":"2007-11-03","series":"CRB","pct":4.1},{"date":"2007-11-05","series":"CRB","pct":3.6},{"date":"2007-11-07","series":"CRB","pct":4.9},{"date":"2007-11-08","series":"CRB","pct":3.8},{"date":"2007-11-10","series":"CRB","pct":4.6},{"date":"2007-11-12","series":"CRB","pct":3.4},{"date":"2007-11-14","series":"CRB","pct":2.0},{"date":"2007-11-16","series":"CRB","pct":3.6},{"date":"2007-11-18","series":"CRB","pct":2.3},{"date":"2007-11-19","series":"CRB","pct":2.8},{"date":"2007-11-21","series":"CRB","pct":3.9},{"date":"2007-11-24","series":"CRB","pct":4.4},{"date":"2007-11-26","series":"CRB","pct":4.1},{"date":"2007-11-27","series":"CRB","pct":2.2},{"date":"2007-11-29","series":"CRB","pct":1.2},
{"date":"2007-12-02","series":"CRB","pct":0.3},{"date":"2007-12-04","series":"CRB","pct":0.1},{"date":"2007-12-07","series":"CRB","pct":0.9},{"date":"2007-12-10","series":"CRB","pct":1.4},{"date":"2007-12-13","series":"CRB","pct":4.1},{"date":"2007-12-15","series":"CRB","pct":2.8},{"date":"2007-12-17","series":"CRB","pct":2.6},{"date":"2007-12-19","series":"CRB","pct":2.5},{"date":"2007-12-21","series":"CRB","pct":3.1},{"date":"2007-12-24","series":"CRB","pct":4.4},{"date":"2007-12-27","series":"CRB","pct":6.0},{"date":"2007-12-29","series":"CRB","pct":5.7},{"date":"2007-12-31","series":"CRB","pct":6.6},
{"date":"2008-01-01","series":"CRB","pct":8.2},{"date":"2008-01-03","series":"CRB","pct":8.6},{"date":"2008-01-04","series":"CRB","pct":7.9},{"date":"2008-01-06","series":"CRB","pct":7.0},{"date":"2008-01-07","series":"CRB","pct":8.4},{"date":"2008-01-08","series":"CRB","pct":7.9},{"date":"2008-01-10","series":"CRB","pct":7.4},{"date":"2008-01-12","series":"CRB","pct":8.1},{"date":"2008-01-13","series":"CRB","pct":9.2},{"date":"2008-01-15","series":"CRB","pct":7.6},{"date":"2008-01-16","series":"CRB","pct":6.5},{"date":"2008-01-19","series":"CRB","pct":6.3},{"date":"2008-01-21","series":"CRB","pct":5.0},{"date":"2008-01-22","series":"CRB","pct":3.1},{"date":"2008-01-24","series":"CRB","pct":5.0},{"date":"2008-01-26","series":"CRB","pct":6.3},{"date":"2008-01-28","series":"CRB","pct":7.9},{"date":"2008-01-30","series":"CRB","pct":8.9},
{"date":"2008-02-01","series":"CRB","pct":7.9},{"date":"2008-02-03","series":"CRB","pct":8.2},{"date":"2008-02-05","series":"CRB","pct":7.4},{"date":"2008-02-07","series":"CRB","pct":7.6},{"date":"2008-02-08","series":"CRB","pct":9.8},{"date":"2008-02-10","series":"CRB","pct":11.4},{"date":"2008-02-11","series":"CRB","pct":11.1},{"date":"2008-02-13","series":"CRB","pct":12.1},{"date":"2008-02-15","series":"CRB","pct":13.7},{"date":"2008-02-16","series":"CRB","pct":14.1},{"date":"2008-02-18","series":"CRB","pct":16.3},{"date":"2008-02-20","series":"CRB","pct":16.9},{"date":"2008-02-23","series":"CRB","pct":18.0},{"date":"2008-02-25","series":"CRB","pct":19.4},{"date":"2008-02-27","series":"CRB","pct":21.1},{"date":"2008-02-29","series":"CRB","pct":22.4},
{"date":"2008-03-02","series":"CRB","pct":22.9},{"date":"2008-03-03","series":"CRB","pct":20.5},{"date":"2008-03-04","series":"CRB","pct":22.6},{"date":"2008-03-05","series":"CRB","pct":23.5},{"date":"2008-03-07","series":"CRB","pct":21.4},{"date":"2008-03-09","series":"CRB","pct":21.4},{"date":"2008-03-12","series":"CRB","pct":22.4},{"date":"2008-03-14","series":"CRB","pct":23.7},{"date":"2008-03-15","series":"CRB","pct":22.6},{"date":"2008-03-16","series":"CRB","pct":18.6},{"date":"2008-03-17","series":"CRB","pct":17.3},{"date":"2008-03-18","series":"CRB","pct":17.7},{"date":"2008-03-20","series":"CRB","pct":14.3},{"date":"2008-03-21","series":"CRB","pct":12.4},{"date":"2008-03-23","series":"CRB","pct":13.1},{"date":"2008-03-25","series":"CRB","pct":16.5},{"date":"2008-03-27","series":"CRB","pct":17.7},{"date":"2008-03-28","series":"CRB","pct":16.0},{"date":"2008-03-31","series":"CRB","pct":13.5},{"date":"2008-04-02","series":"CRB","pct":14.3},{"date":"2008-04-03","series":"CRB","pct":15.8},{"date":"2008-04-04","series":"CRB","pct":16.0}
],
"tabs": [{"tab":"R/J CRB (EOD)","date":"2006-10-01","pct":65},{"tab":"Platinum (EOD)","date":"2006-10-01","pct":65}],
"boxes": [
{"part":"mainTop","start":"2006-08-25","end":"2007-09-09","top":72.0,"bottom":42.5},
{"part":"mainBL","start":"2006-08-25","end":"2007-03-20","top":42.6,"bottom":30.45},
{"part":"mainBR","start":"2007-07-06","end":"2007-09-09","top":42.6,"bottom":30.45},
{"part":"mainOutline","start":"2006-08-25","end":"2007-09-09","top":72.0,"bottom":30.45},
{"part":"c1Top","start":"2006-08-18","end":"2007-02-04","top":59.65,"bottom":45.9},
{"part":"c1BL","start":"2006-08-18","end":"2006-11-23","top":46.06,"bottom":39.74},
{"part":"c1BR","start":"2007-01-05","end":"2007-02-04","top":46.06,"bottom":39.74},
{"part":"c1Outline","start":"2006-08-18","end":"2007-02-04","top":59.65,"bottom":39.74},
{"part":"c2Top","start":"2007-04-09","end":"2007-09-03","top":56.68,"bottom":44.95},
{"part":"c2BL","start":"2007-04-09","end":"2007-07-03","top":45.1,"bottom":39.74},
{"part":"c2BR","start":"2007-08-08","end":"2007-09-03","top":45.1,"bottom":39.74},
{"part":"c2Outline","start":"2007-04-09","end":"2007-09-03","top":56.68,"bottom":39.74}
],
"tris": [
{"box":"main","tri":"mA","date":"2007-03-20","upper":42.6,"lower":30.45},
{"box":"main","tri":"mA","date":"2007-04-03","upper":30.45,"lower":30.45},
{"box":"main","tri":"mB","date":"2007-03-20","upper":42.6,"lower":42.6},
{"box":"main","tri":"mB","date":"2007-07-07","upper":42.6,"lower":30.45},
{"box":"c1","tri":"c1A","date":"2006-11-22","upper":46.06,"lower":39.74},
{"box":"c1","tri":"c1A","date":"2006-11-26","upper":39.74,"lower":39.74},
{"box":"c1","tri":"c1B","date":"2006-11-22","upper":46.06,"lower":46.06},
{"box":"c1","tri":"c1B","date":"2007-01-06","upper":46.06,"lower":39.74},
{"box":"c2","tri":"c2A","date":"2007-07-02","upper":45.1,"lower":39.74},
{"box":"c2","tri":"c2A","date":"2007-07-04","upper":39.74,"lower":39.74},
{"box":"c2","tri":"c2B","date":"2007-07-02","upper":45.1,"lower":45.1},
{"box":"c2","tri":"c2B","date":"2007-08-09","upper":45.1,"lower":39.74}
],
"erases": [
{"box":"main","start":"2007-04-03","end":"2007-07-07","pct":30.45},
{"box":"c1","start":"2006-11-26","end":"2007-01-06","pct":39.74},
{"box":"c2","start":"2007-07-04","end":"2007-08-09","pct":39.74}
],
"edges": [
{"box":"main","seq":1,"date":"2007-04-03","pct":30.45},{"box":"main","seq":2,"date":"2007-03-20","pct":42.6},{"box":"main","seq":3,"date":"2007-07-07","pct":30.45},
{"box":"c1","seq":1,"date":"2006-11-26","pct":39.74},{"box":"c1","seq":2,"date":"2006-11-22","pct":46.06},{"box":"c1","seq":3,"date":"2007-01-06","pct":39.74},
{"box":"c2","seq":1,"date":"2007-07-04","pct":39.74},{"box":"c2","seq":2,"date":"2007-07-02","pct":45.1},{"box":"c2","seq":3,"date":"2007-08-09","pct":39.74}
],
"bigtext": [
{"part":"pre","date":"2007-02-03","pct":57.55,"text":"В течение этого в"},
{"part":"suf","date":"2007-02-03","pct":57.55,"text":"ременного периода так же"},
{"part":"pre","date":"2007-02-05","pct":53.14,"text":"наблюдается совп"},
{"part":"suf","date":"2007-02-05","pct":53.14,"text":"адение графиков"},
{"part":"pre","date":"2007-02-05","pct":48.74,"text":"платины и товар"},
{"part":"suf","date":"2007-02-05","pct":48.74,"text":"ного индекса,"},
{"part":"pre","date":"2007-02-05","pct":44.24,"text":"указывает на общую т"},
{"part":"suf","date":"2007-02-03","pct":44.24,"text":"енденцию к росту цен."}
],
"callouts": [
{"text":"Общие основания","date":"2006-11-12","pct":49.6},
{"text":"Общие пики","date":"2007-06-22","pct":47.8}
],
"trends": [
{"seg":"N1","series":"Platinum","date":"2006-08-24","pct":9.1},{"seg":"N1","series":"Platinum","date":"2006-10-10","pct":-7.7},
{"seg":"N2","series":"Platinum","date":"2006-10-16","pct":-7.7},{"seg":"N2","series":"Platinum","date":"2006-11-14","pct":2.9},{"seg":"N2","series":"Platinum","date":"2006-12-14","pct":-7.7},{"seg":"N2","series":"Platinum","date":"2007-07-18","pct":7.5},
{"seg":"N3","series":"Platinum","date":"2007-07-18","pct":12.2},{"seg":"N3","series":"Platinum","date":"2007-08-16","pct":4.6},{"seg":"N3","series":"Platinum","date":"2008-01-27","pct":29.0},
{"seg":"N4","series":"Platinum","date":"2008-01-27","pct":32.2},{"seg":"N4","series":"Platinum","date":"2008-03-02","pct":90.2},{"seg":"N4","series":"Platinum","date":"2008-03-20","pct":58.2},
{"seg":"R1","series":"CRB","date":"2006-07-15","pct":-0.2},{"seg":"R1","series":"CRB","date":"2006-09-22","pct":-12.3},
{"seg":"R2","series":"CRB","date":"2006-09-29","pct":-12.3},{"seg":"R2","series":"CRB","date":"2006-12-02","pct":-7.7},{"seg":"R2","series":"CRB","date":"2007-01-06","pct":-15.6},
{"seg":"R3","series":"CRB","date":"2007-01-06","pct":-16.95},{"seg":"R3","series":"CRB","date":"2007-07-18","pct":-7.7},
{"seg":"R4","series":"CRB","date":"2007-07-18","pct":-4.7},{"seg":"R4","series":"CRB","date":"2007-08-16","pct":-10.8},{"seg":"R4","series":"CRB","date":"2008-01-27","pct":3.1},
{"seg":"R5","series":"CRB","date":"2008-02-08","pct":7.8},{"seg":"R5","series":"CRB","date":"2008-03-08","pct":25.9},{"seg":"R5","series":"CRB","date":"2008-03-26","pct":13.8}
],
"arrows": [
{"arrow":"A1","end":"start","date":"2006-10-10","pct":35.2},{"arrow":"A1","end":"tip","date":"2006-10-10","pct":1.6},
{"arrow":"A2","end":"start","date":"2006-10-10","pct":35.2},{"arrow":"A2","end":"tip","date":"2006-09-23","pct":-7.7},
{"arrow":"B1","end":"start","date":"2007-02-05","pct":38.2},{"arrow":"B1","end":"tip","date":"2007-08-10","pct":10.7},
{"arrow":"B2","end":"start","date":"2007-02-05","pct":38.2},{"arrow":"B2","end":"tip","date":"2007-08-16","pct":-7.8},
{"arrow":"O1","end":"start","date":"2007-05-02","pct":38.2},{"arrow":"O1","end":"tip","date":"2006-12-02","pct":1.5},
{"arrow":"O2","end":"start","date":"2007-05-02","pct":38.2},{"arrow":"O2","end":"tip","date":"2006-11-26","pct":-6.0},
{"arrow":"Br1","end":"start","date":"2007-09-09","pct":53.6},{"arrow":"Br1","end":"tip","date":"2008-02-14","pct":79.5},
{"arrow":"Br2","end":"start","date":"2007-09-09","pct":53.6},{"arrow":"Br2","end":"tip","date":"2008-02-08","pct":18.4}
],
"labels": [{"label":"Платина","date":"2007-11-24","pct":41.2},{"label":"CRB","date":"2008-02-01","pct":-4.8}]
},
"layer": [
{"data":{"values":[{"pct":0}]},"mark":{"type":"rule","color":"#444444","strokeWidth":1.5},"encoding":{"y":{"field":"pct","type":"quantitative","title":null}}},
{"data":{"name":"prices"},"mark":{"type":"line","strokeWidth":1.3},
 "encoding":{
  "x":{"field":"date","type":"temporal","title":null,
   "scale":{"type":"utc","domain":[{"year":2006,"month":6,"date":8,"utc":true},{"year":2008,"month":4,"date":5,"utc":true}],"nice":false},
   "axis":{"orient":"bottom","values":[{"year":2006,"month":7,"date":1,"utc":true},{"year":2006,"month":8,"date":1,"utc":true},{"year":2006,"month":9,"date":1,"utc":true},{"year":2006,"month":10,"date":1,"utc":true},{"year":2006,"month":11,"date":1,"utc":true},{"year":2006,"month":12,"date":1,"utc":true},{"year":2007,"month":1,"date":1,"utc":true},{"year":2007,"month":2,"date":1,"utc":true},{"year":2007,"month":3,"date":1,"utc":true},{"year":2007,"month":4,"date":1,"utc":true},{"year":2007,"month":5,"date":1,"utc":true},{"year":2007,"month":6,"date":1,"utc":true},{"year":2007,"month":7,"date":1,"utc":true},{"year":2007,"month":8,"date":1,"utc":true},{"year":2007,"month":9,"date":1,"utc":true},{"year":2007,"month":10,"date":1,"utc":true},{"year":2007,"month":11,"date":1,"utc":true},{"year":2007,"month":12,"date":1,"utc":true},{"year":2008,"month":1,"date":1,"utc":true},{"year":2008,"month":2,"date":1,"utc":true},{"year":2008,"month":3,"date":1,"utc":true},{"year":2008,"month":4,"date":1,"utc":true}],
    "labelExpr":"utcyear(datum.value) == 2008 && utcmonth(datum.value) == 3 ? '' : utcFormat(datum.value, '%b %y')",
    "grid":false,"tickSize":36,"tickColor":"#c9c9c9","tickWidth":1,"labelAlign":"left","labelBaseline":"middle","labelPadding":-16,"labelOffset":5,"labelFont":"DejaVu Sans","labelFontSize":15,"labelColor":"#222222","labelFlush":false,"labelOverlap":false,"domainColor":"#444444","domainWidth":2}},
  "y":{"field":"pct","type":"quantitative","title":null,
   "scale":{"domain":[-15.5,93.6],"nice":false,"zero":false},
   "axis":{"orient":"right","values":[-15,-10,-5,0,5,10,15,20,25,30,35,40,45,50,55,60,65,70,75,80,85,90],
    "labelExpr":"(datum.value < 0 ? '-' : '') + format(abs(datum.value), '.1f') + '%'",
    "grid":true,"gridColor":"#cccccc","gridWidth":1.5,"tickSize":69,"tickColor":"#cccccc","tickWidth":1.5,"labelAlign":"left","labelBaseline":"middle","labelPadding":-64,"labelOffset":-10,"labelFont":"DejaVu Sans","labelFontSize":15,"labelColor":"#222222","labelFlush":false,"labelOverlap":false,"domainColor":"#444444","domainWidth":1.5}},
  "color":{"field":"series","type":"nominal","scale":{"domain":["CRB","Platinum"],"range":["#c13c33","#3d2f9f"]},"legend":null}}},
{"data":{"name":"tabs"},"mark":{"type":"point","shape":"square","filled":true,"size":20,"opacity":1},
 "encoding":{"x":{"field":"date","type":"temporal","title":null},"y":{"field":"pct","type":"quantitative","title":null},
  "color":{"field":"tab","type":"nominal","scale":{"domain":["R/J CRB (EOD)","Platinum (EOD)"],"range":["#e8161b","#2a12c6"]},
   "legend":{"orient":"none","legendX":3,"legendY":-38,"direction":"horizontal","title":null,"symbolType":"square","symbolSize":100,"symbolStrokeWidth":0,"symbolOpacity":1,"labelFontSize":16,"labelFont":"DejaVu Sans","labelColor":"#222222","fillColor":"#f0f0f0","strokeColor":"#a8a8a8","padding":7,"columnPadding":30,"labelOffset":12,"cornerRadius":2}}}},
{"data":{"name":"boxes"},"transform":[{"filter":"datum.part == 'mainTop'"}],"mark":{"type":"rect","color":"#ffffff","opacity":1,"cornerRadiusTopLeft":60,"cornerRadiusTopRight":60},
 "encoding":{"x":{"field":"start","type":"temporal","title":null},"x2":{"field":"end"},"y":{"field":"top","type":"quantitative","title":null},"y2":{"field":"bottom"}}},
{"data":{"name":"boxes"},"transform":[{"filter":"datum.part == 'mainBL'"}],"mark":{"type":"rect","color":"#ffffff","opacity":1,"cornerRadiusBottomLeft":60},
 "encoding":{"x":{"field":"start","type":"temporal","title":null},"x2":{"field":"end"},"y":{"field":"top","type":"quantitative","title":null},"y2":{"field":"bottom"}}},
{"data":{"name":"boxes"},"transform":[{"filter":"datum.part == 'mainBR'"}],"mark":{"type":"rect","color":"#ffffff","opacity":1,"cornerRadiusBottomRight":60},
 "encoding":{"x":{"field":"start","type":"temporal","title":null},"x2":{"field":"end"},"y":{"field":"top","type":"quantitative","title":null},"y2":{"field":"bottom"}}},
{"data":{"name":"tris"},"transform":[{"filter":"datum.box == 'main'"}],"mark":{"type":"area","color":"#ffffff","opacity":1,"fillOpacity":1},
 "encoding":{"x":{"field":"date","type":"temporal","title":null},"y":{"field":"upper","type":"quantitative","title":null},"y2":{"field":"lower"},"detail":{"field":"tri"}}},
{"data":{"name":"boxes"},"transform":[{"filter":"datum.part == 'mainOutline'"}],"mark":{"type":"rect","filled":false,"stroke":"#000000","strokeWidth":4.5,"cornerRadius":60},
 "encoding":{"x":{"field":"start","type":"temporal","title":null},"x2":{"field":"end"},"y":{"field":"top","type":"quantitative","title":null},"y2":{"field":"bottom"}}},
{"data":{"name":"erases"},"transform":[{"filter":"datum.box == 'main'"}],"mark":{"type":"rule","color":"#fffde9","strokeWidth":6,"strokeCap":"butt"},
 "encoding":{"x":{"field":"start","type":"temporal","title":null},"x2":{"field":"end"},"y":{"field":"pct","type":"quantitative","title":null}}},
{"data":{"name":"edges"},"transform":[{"filter":"datum.box == 'main'"}],"mark":{"type":"line","color":"#000000","strokeWidth":4.5,"strokeCap":"square"},
 "encoding":{"x":{"field":"date","type":"temporal","title":null},"y":{"field":"pct","type":"quantitative","title":null},"order":{"field":"seq","type":"quantitative"},"detail":{"field":"box"}}},
{"data":{"name":"bigtext"},"transform":[{"filter":"datum.part == 'pre'"}],"mark":{"type":"text","align":"right","baseline":"middle","font":"Liberation Sans","fontWeight":"bold","fontSize":37,"color":"#000000"},
 "encoding":{"x":{"field":"date","type":"temporal","title":null},"y":{"field":"pct","type":"quantitative","title":null},"text":{"field":"text"}}},
{"data":{"name":"bigtext"},"transform":[{"filter":"datum.part == 'suf'"}],"mark":{"type":"text","align":"left","baseline":"middle","font":"Liberation Sans","fontWeight":"bold","fontSize":37,"color":"#000000"},
 "encoding":{"x":{"field":"date","type":"temporal","title":null},"y":{"field":"pct","type":"quantitative","title":null},"text":{"field":"text"}}},
{"data":{"name":"boxes"},"transform":[{"filter":{"field":"part","oneOf":["c1Top","c2Top"]}}],"mark":{"type":"rect","color":"#ffffff","opacity":1,"cornerRadiusTopLeft":32,"cornerRadiusTopRight":32},
 "encoding":{"x":{"field":"start","type":"temporal","title":null},"x2":{"field":"end"},"y":{"field":"top","type":"quantitative","title":null},"y2":{"field":"bottom"}}},
{"data":{"name":"boxes"},"transform":[{"filter":{"field":"part","oneOf":["c1BL","c2BL"]}}],"mark":{"type":"rect","color":"#ffffff","opacity":1,"cornerRadiusBottomLeft":32},
 "encoding":{"x":{"field":"start","type":"temporal","title":null},"x2":{"field":"end"},"y":{"field":"top","type":"quantitative","title":null},"y2":{"field":"bottom"}}},
{"data":{"name":"boxes"},"transform":[{"filter":{"field":"part","oneOf":["c1BR","c2BR"]}}],"mark":{"type":"rect","color":"#ffffff","opacity":1,"cornerRadiusBottomRight":32},
 "encoding":{"x":{"field":"start","type":"temporal","title":null},"x2":{"field":"end"},"y":{"field":"top","type":"quantitative","title":null},"y2":{"field":"bottom"}}},
{"data":{"name":"tris"},"transform":[{"filter":"datum.box != 'main'"}],"mark":{"type":"area","color":"#ffffff","opacity":1,"fillOpacity":1},
 "encoding":{"x":{"field":"date","type":"temporal","title":null},"y":{"field":"upper","type":"quantitative","title":null},"y2":{"field":"lower"},"detail":{"field":"tri"}}},
{"data":{"name":"boxes"},"transform":[{"filter":{"field":"part","oneOf":["c1Outline","c2Outline"]}}],"mark":{"type":"rect","filled":false,"stroke":"#000000","strokeWidth":4.5,"cornerRadius":32},
 "encoding":{"x":{"field":"start","type":"temporal","title":null},"x2":{"field":"end"},"y":{"field":"top","type":"quantitative","title":null},"y2":{"field":"bottom"}}},
{"data":{"name":"erases"},"transform":[{"filter":"datum.box != 'main'"}],"mark":{"type":"rule","color":"#ffffff","strokeWidth":6,"strokeCap":"butt"},
 "encoding":{"x":{"field":"start","type":"temporal","title":null},"x2":{"field":"end"},"y":{"field":"pct","type":"quantitative","title":null}}},
{"data":{"name":"edges"},"transform":[{"filter":"datum.box != 'main'"}],"mark":{"type":"line","color":"#000000","strokeWidth":4.5,"strokeCap":"square"},
 "encoding":{"x":{"field":"date","type":"temporal","title":null},"y":{"field":"pct","type":"quantitative","title":null},"order":{"field":"seq","type":"quantitative"},"detail":{"field":"box"}}},
{"data":{"name":"callouts"},"mark":{"type":"text","align":"center","baseline":"middle","font":"Liberation Sans","fontWeight":"bold","fontSize":31,"color":"#000000"},
 "encoding":{"x":{"field":"date","type":"temporal","title":null},"y":{"field":"pct","type":"quantitative","title":null},"text":{"field":"text"}}},
{"data":{"name":"trends"},"mark":{"type":"line","strokeWidth":6.2,"strokeCap":"butt","strokeJoin":"round"},
 "encoding":{"x":{"field":"date","type":"temporal","title":null},"y":{"field":"pct","type":"quantitative","title":null},
  "color":{"field":"series","type":"nominal","scale":{"domain":["CRB","Platinum"],"range":["#800000","#000080"]},"legend":null},"detail":{"field":"seg"}}},
{"data":{"name":"labels"},"mark":{"type":"text","align":"center","baseline":"middle","font":"Liberation Sans","fontWeight":"bold","fontSize":31},
 "encoding":{"x":{"field":"date","type":"temporal","title":null},"y":{"field":"pct","type":"quantitative","title":null},"text":{"field":"label"},
  "color":{"field":"label","type":"nominal","scale":{"domain":["Платина","CRB"],"range":["#0000cc","#990000"]},"legend":null}}},
{"data":{"name":"arrows"},"mark":{"type":"line","strokeWidth":5,"strokeCap":"butt"},
 "encoding":{"x":{"field":"date","type":"temporal","title":null},"y":{"field":"pct","type":"quantitative","title":null},
  "color":{"field":"arrow","type":"nominal","scale":{"domain":["A1","A2","B1","B2","O1","O2","Br1","Br2"],"range":["#3a6cff","#3a6cff","#0a0af2","#0a0af2","#ff6600","#ff6600","#993300","#993300"]},"legend":null},"detail":{"field":"arrow"}}},
{"data":{"name":"arrows"},"transform":[{"filter":"datum.end == 'tip'"}],"mark":{"type":"point","shape":"M0,0L0.37,1L-0.37,1Z","filled":true,"size":7056,"opacity":1,"strokeWidth":0},
 "encoding":{"x":{"field":"date","type":"temporal","title":null},"y":{"field":"pct","type":"quantitative","title":null},
  "color":{"field":"arrow","type":"nominal","scale":{"domain":["A1","A2","B1","B2","O1","O2","Br1","Br2"],"range":["#3a6cff","#3a6cff","#0a0af2","#0a0af2","#ff6600","#ff6600","#993300","#993300"]},"legend":null},
  "angle":{"field":"arrow","type":"nominal","scale":{"type":"ordinal","domain":["A1","A2","B1","B2","O1","O2","Br1","Br2"],"range":[180,186,119.5,132.5,227.1,222.9,58,131.5]},"legend":null}}},
{"data":{"values":[{"note":"8 June 2006 - 4 April 2008","date":"2006-06-10","pct":91.7}]},"mark":{"type":"text","align":"left","baseline":"middle","font":"DejaVu Sans","fontSize":15,"color":"#222222"},
 "encoding":{"x":{"field":"date","type":"temporal","title":null},"y":{"field":"pct","type":"quantitative","title":null},"text":{"field":"note"}}},
{"data":{"values":[{"note":"Copyright, StockCharts.com","date":"2008-04-03","pct":91.6}]},"mark":{"type":"text","align":"right","baseline":"middle","font":"DejaVu Sans","fontSize":15,"color":"#c4c4c4"},
 "encoding":{"x":{"field":"date","type":"temporal","title":null},"y":{"field":"pct","type":"quantitative","title":null},"text":{"field":"note"}}}
]
}
